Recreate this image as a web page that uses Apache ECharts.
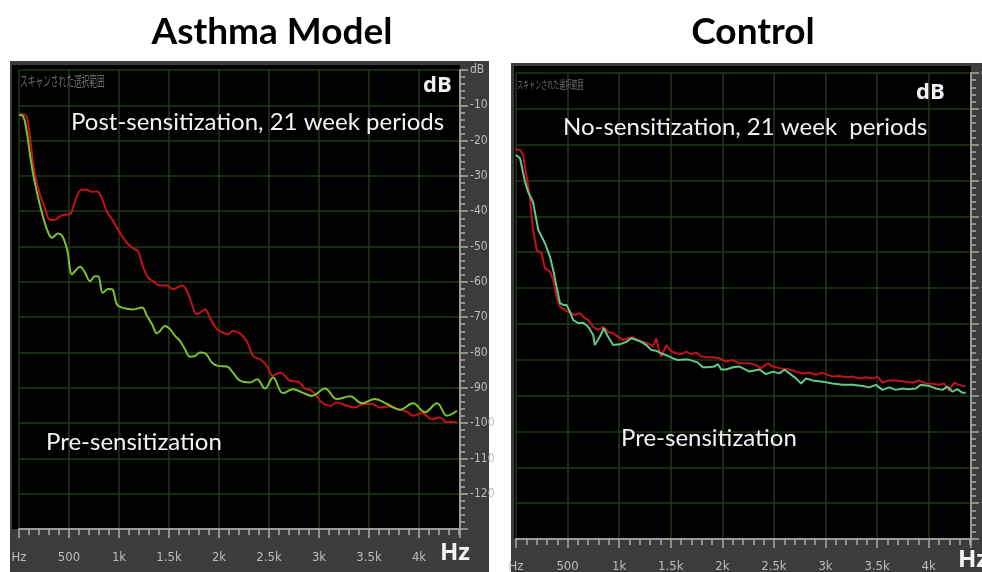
<!DOCTYPE html>
<html>
<head>
<meta charset="utf-8">
<script src="https://cdn.jsdelivr.net/npm/echarts@6/dist/echarts.min.js"></script>
<style>
  html, body { margin: 0; padding: 0; background: #fff; }
  #chart { width: 982px; height: 572px; }
</style>
</head>
<body>
<div id="chart"></div>
<script>
// Asthma model, post-sensitization (red)
var asthmaPostHz = [0, 60, 93, 127, 160, 210, 260, 310, 360, 410, 460, 510, 560, 627, 677, 727, 777, 827, 877, 943,
  990, 1080, 1160, 1190, 1240, 1290, 1340, 1410, 1480, 1540, 1630, 1680, 1730, 1780, 1860, 1910, 1980, 2040, 2090, 2140,
  2210, 2280, 2340, 2410, 2480, 2540, 2610, 2710, 2790, 2860, 2930, 3030, 3110, 3180, 3280, 3360, 3440, 3530, 3610, 3690,
  3780, 3880, 3940, 4030, 4130, 4210, 4280, 4340, 4380];
var asthmaPostDb = [-12.5, -12.7, -15.5, -23.1, -29.7, -35.3, -39.1, -42.4, -42.4, -41.4, -41.0, -40.8, -37.2, -33.9, -33.9, -34.5, -34.4, -36.2, -40.0, -42.8,
  -45.2, -49.0, -50.8, -51.3, -55.6, -58.8, -59.8, -61.0, -61.0, -62.1, -61.0, -62.6, -66.4, -69.2, -67.8, -70.2, -73.4, -74.4, -74.9, -73.9,
  -74.6, -77.0, -81.0, -81.9, -83.8, -86.6, -85.7, -88.0, -88.3, -90.2, -90.9, -94.2, -95.1, -94.2, -95.1, -95.6, -94.6, -94.6, -95.6, -95.3,
  -96.0, -96.8, -97.9, -97.2, -98.9, -98.4, -99.8, -99.6, -99.8];

// Asthma model, pre-sensitization (green)
var asthmaPreHz = [0, 43, 77, 110, 143, 193, 243, 293, 330, 390, 430, 480, 530, 560, 610, 660, 710, 760, 790, 840,
  890, 930, 980, 1030, 1080, 1140, 1230, 1280, 1330, 1380, 1410, 1460, 1510, 1560, 1610, 1660, 1710, 1760, 1810, 1860,
  1930, 1990, 2080, 2140, 2210, 2310, 2380, 2460, 2540, 2640, 2740, 2830, 2930, 3060, 3180, 3310, 3430, 3560, 3680, 3810,
  3940, 4060, 4180, 4280, 4380];
var asthmaPreDb = [-12.7, -13.2, -17.4, -24.0, -29.7, -36.3, -41.9, -46.1, -47.5, -46.3, -46.9, -50.8, -57.9, -57.0, -55.7, -57.4, -59.8, -58.4, -58.4, -63.1,
  -62.0, -62.1, -66.4, -67.3, -67.6, -67.8, -67.3, -69.7, -72.0, -74.6, -73.9, -72.5, -73.4, -75.3, -76.7, -79.1, -81.2, -81.0, -80.0, -80.2,
  -82.9, -83.8, -84.0, -85.7, -88.0, -88.5, -87.6, -90.2, -87.1, -91.5, -90.4, -91.3, -92.3, -90.2, -93.2, -92.4, -94.4, -93.2, -94.6, -96.2,
  -94.4, -96.9, -94.4, -97.9, -96.5];

// Control, no-sensitization (red)
var controlPostHz = [0, 39, 68, 106, 135, 164, 200, 248, 281, 329, 361, 393, 426, 474, 522, 571, 619, 667, 700, 748,
  796, 845, 893, 941, 990, 1038, 1086, 1135, 1183, 1231, 1280, 1328, 1360, 1385, 1409, 1457, 1505, 1554, 1602, 1650,
  1699, 1747, 1795, 1844, 1908, 1973, 2037, 2102, 2166, 2263, 2327, 2375, 2440, 2488, 2569, 2650, 2714, 2779, 2843, 2908,
  2956, 3004, 3069, 3133, 3198, 3262, 3327, 3391, 3456, 3504, 3552, 3601, 3682, 3778, 3843, 3907, 3972, 4036, 4101, 4149,
  4198, 4246, 4294, 4359];
var controlPostDb = [-21.3, -21.5, -22.9, -29.4, -34.9, -43.3, -49.4, -50.3, -54.5, -55.4, -57.7, -62.4, -65.2, -66.1, -66.9, -67.5, -67.0, -68.4, -68.9, -70.8,
  -71.7, -70.8, -72.2, -72.6, -73.6, -74.5, -74.0, -73.7, -74.5, -75.0, -75.4, -76.3, -74.0, -77.3, -79.1, -75.9, -77.7, -78.2, -78.4, -77.7,
  -78.4, -78.0, -79.1, -79.3, -79.3, -79.6, -80.5, -80.1, -81.0, -81.0, -81.5, -82.4, -81.0, -81.9, -82.4, -82.7, -83.3, -83.8, -83.6, -84.2,
  -83.6, -84.0, -84.7, -84.5, -84.9, -84.7, -85.2, -84.9, -85.2, -84.7, -86.4, -85.8, -85.8, -86.1, -86.4, -85.8, -86.6, -86.7, -87.0, -86.6,
  -88.6, -86.4, -87.0, -87.5];

// Control, pre-sensitization (green)
var controlPreHz = [0, 39, 87, 116, 164, 216, 281, 329, 361, 393, 426, 458, 490, 522, 554, 603, 651, 700, 748, 764,
  812, 851, 893, 941, 1006, 1070, 1119, 1167, 1215, 1264, 1312, 1360, 1425, 1473, 1521, 1570, 1618, 1666, 1715, 1763,
  1811, 1860, 1924, 1956, 1989, 2037, 2102, 2166, 2263, 2359, 2424, 2488, 2553, 2601, 2650, 2714, 2763, 2811, 2875, 2972,
  3069, 3165, 3262, 3359, 3424, 3488, 3552, 3617, 3682, 3746, 3810, 3875, 3923, 4004, 4069, 4133, 4181, 4230, 4278, 4327,
  4359];
var controlPreDb = [-22.9, -23.8, -30.3, -33.1, -35.9, -43.8, -47.5, -51.2, -55.0, -59.6, -64.2, -64.7, -64.7, -66.6, -68.9, -69.8, -69.7, -70.8, -73.1, -75.9,
  -73.6, -71.2, -73.6, -75.9, -75.7, -75.0, -74.0, -74.5, -75.0, -75.9, -77.3, -77.5, -78.4, -78.9, -79.6, -80.1, -79.9, -79.9, -80.3, -80.8,
  -82.1, -82.1, -81.9, -81.2, -82.7, -82.7, -82.1, -81.9, -83.3, -82.7, -84.0, -83.3, -83.8, -82.8, -83.8, -85.2, -86.6, -85.2, -85.8, -86.1,
  -86.6, -87.0, -87.0, -87.3, -87.7, -87.0, -88.4, -87.7, -88.4, -88.0, -88.2, -88.0, -87.0, -87.3, -88.0, -88.4, -87.5, -88.9, -88.2, -89.2,
  -89.2];

var hzTicks = [0, 500, 1000, 1500, 2000, 2500, 3000, 3500, 4000];
var hzTickText = ['Hz', '500', '1k', '1.5k', '2k', '2.5k', '3k', '3.5k', '4k'];
var dbTicks = [0, -10, -20, -30, -40, -50, -60, -70, -80, -90, -100, -110, -120];
var dbTickText = ['dB', '-10', '-20', '-30', '-40', '-50', '-60', '-70', '-80', '-90', '-100', '-110', '-120'];

function pairs(xs, ys) {
  return xs.map(function (x, i) { return [x, ys[i]]; });
}

var myChart = echarts.init(document.getElementById('chart'));

var gridColor = '#22391a';
var stripText = '#bdbdbd';
var narrow = '"Liberation Sans Narrow", "DejaVu Sans Condensed", sans-serif';

function hzAxis(gridIndex, margin) {
  return {
    type: 'value', gridIndex: gridIndex, position: 'bottom', min: 0, max: 4410, interval: 500,
    axisLine: { show: true, onZero: false, lineStyle: { color: '#9a9a9a', width: 2 } },
    axisTick: { show: true, length: 9, lineStyle: { color: '#aaaaaa', width: 1.5 } },
    minorTick: { show: true, splitNumber: 5, length: 6, lineStyle: { color: '#aaaaaa', width: 1.5 } },
    axisLabel: {
      margin: margin, color: stripText, fontFamily: narrow, fontSize: 13,
      formatter: function (v) {
        var i = hzTicks.indexOf(v);
        return i >= 0 ? hzTickText[i] : '';
      }
    },
    splitLine: { show: true, showMaxLine: false, lineStyle: { color: gridColor, width: 1.5 } }
  };
}

function dbAxis(gridIndex) {
  return {
    type: 'value', gridIndex: gridIndex, position: 'right', min: -130, max: 0, interval: 10,
    axisLine: { show: true, onZero: false, lineStyle: { color: '#9a9a9a', width: 2 } },
    axisTick: { show: true, length: 8, lineStyle: { color: '#aaaaaa', width: 1.5 } },
    minorTick: { show: true, splitNumber: 5, length: 5, lineStyle: { color: '#aaaaaa', width: 1.5 } },
    axisLabel: {
      margin: 10, color: stripText, fontFamily: narrow, fontSize: 12,
      formatter: function (v) {
        var i = dbTicks.indexOf(v);
        return i >= 0 ? dbTickText[i] : '';
      }
    },
    splitLine: { show: true, showMinLine: false, lineStyle: { color: gridColor, width: 1.5 } }
  };
}

function label(text, x, y, font, fill, align) {
  return {
    type: 'text', x: x, y: y, z: 100,
    style: { text: text, font: font, fill: fill || '#f2f2f2', align: align || 'left', verticalAlign: 'middle' }
  };
}

const option = {
  animation: false,
  backgroundColor: '#ffffff',
  grid: [
    { left: 19, top: 70, width: 441, height: 459, outerBoundsMode: 'none' },
    { left: 516, top: 73, width: 455, height: 466, outerBoundsMode: 'none' }
  ],
  xAxis: [hzAxis(0, 22), hzAxis(1, 21)],
  yAxis: [dbAxis(0), dbAxis(1)],
  graphic: [
    // panel frames and black plot areas
    { type: 'rect', z: -10, shape: { x: 10, y: 61, width: 479, height: 511 }, style: { fill: '#3c3c3c' } },
    { type: 'rect', z: -9, shape: { x: 12, y: 65, width: 448, height: 464 }, style: { fill: '#000' } },
    { type: 'rect', z: -10, shape: { x: 511, y: 63, width: 471, height: 509 }, style: { fill: '#3c3c3c' } },
    { type: 'rect', z: -9, shape: { x: 514, y: 66, width: 457, height: 473 }, style: { fill: '#000' } },
    // titles
    label('Asthma Model', 272, 32, 'bold 37px Lato', '#000', 'center'),
    label('Control', 753, 32, 'bold 37px Lato', '#000', 'center'),
    // faint screen captions
    { type: 'text', x: 20, y: 74, z: 100, scaleX: 0.55,
      style: { text: 'スキャンされた選択範囲', font: '14px "Noto Sans CJK JP"', fill: '#6a6a6a' } },
    { type: 'text', x: 517, y: 79, z: 100, scaleX: 0.55,
      style: { text: 'スキャンされた選択範囲', font: '11px "Noto Sans CJK JP"', fill: '#6a6a6a' } },
    // annotations, left
    label('Post-sensitization, 21 week periods', 71, 122, '24px Lato'),
    label('dB', 423, 86, 'bold 22px "Open Sans"'),
    label('Pre-sensitization', 46, 442, '24px Lato'),
    label('Hz', 440, 553, 'bold 24px "Open Sans"'),
    // annotations, right
    label('No-sensitization, 21 week  periods', 563, 127, '24px Lato'),
    label('dB', 916, 93, 'bold 22px "Open Sans"'),
    label('Pre-sensitization', 621, 438, '24px Lato'),
    label('Hz', 958, 560, 'bold 24px "Open Sans"')
  ],
  series: [
    {
      name: 'Post-sensitization', type: 'line', xAxisIndex: 0, yAxisIndex: 0,
      data: pairs(asthmaPostHz, asthmaPostDb), smooth: 0.4, showSymbol: false,
      lineStyle: { color: '#c3121b', width: 2 }
    },
    {
      name: 'Pre-sensitization', type: 'line', xAxisIndex: 0, yAxisIndex: 0,
      data: pairs(asthmaPreHz, asthmaPreDb), smooth: 0.4, showSymbol: false,
      lineStyle: { color: '#7cc22c', width: 2 }
    },
    {
      name: 'No-sensitization', type: 'line', xAxisIndex: 1, yAxisIndex: 1,
      data: pairs(controlPostHz, controlPostDb), showSymbol: false,
      lineStyle: { color: '#c3121b', width: 2 }
    },
    {
      name: 'Pre-sensitization (control)', type: 'line', xAxisIndex: 1, yAxisIndex: 1,
      data: pairs(controlPreHz, controlPreDb), showSymbol: false,
      lineStyle: { color: '#62c98a', width: 2 }
    }
  ]
};

myChart.setOption(option);
</script>
</body>
</html>
